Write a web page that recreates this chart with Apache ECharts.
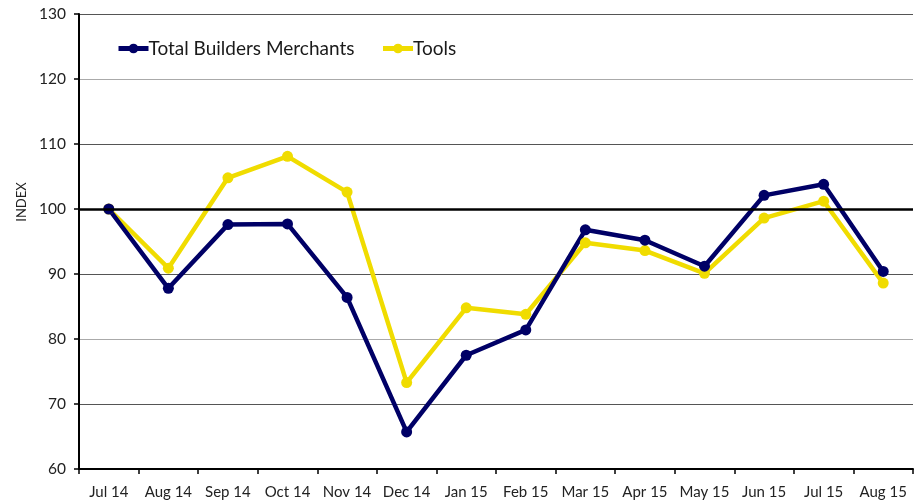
<!DOCTYPE html>
<html lang="en">
<head>
    <meta charset="UTF-8">
    <title>Builders Merchants index</title>
    <style>
        html, body { margin: 0; padding: 0; background: #fff; }
        #main { width: 920px; height: 503px; }
    </style>
</head>
<body>
    <div id="main"></div>
<script src="https://cdn.jsdelivr.net/npm/echarts@6/dist/echarts.min.js"></script>
<script>
    var months = ['Jul 14', 'Aug 14', 'Sep 14', 'Oct 14', 'Nov 14', 'Dec 14', 'Jan 15',
        'Feb 15', 'Mar 15', 'Apr 15', 'May 15', 'Jun 15', 'Jul 15', 'Aug 15'];
    var totalMerchants = [100, 87.8, 97.6, 97.7, 86.4, 65.7, 77.5, 81.4, 96.8, 95.2, 91.2, 102.1, 103.8, 90.4];
    var tools = [100, 90.9, 104.8, 108.1, 102.6, 73.3, 84.8, 83.8, 94.8, 93.6, 90.1, 98.6, 101.2, 88.6];
    var yTicks = [60, 70, 80, 90, 100, 110, 120, 130];

    var navy = '#000066';
    var yellow = '#f0dc00';
    var font = 'Lato, "Open Sans", sans-serif';

    var myChart = echarts.init(document.getElementById('main'));

    // one line series, shared look
    function lineSeries(name, data, color) {
        return {
            name: name,
            type: 'line',
            data: data,
            symbol: 'circle',
            symbolSize: 11,
            lineStyle: { width: 4.5, color: color },
            itemStyle: { color: color },
            animation: false
        };
    }

    var series = [
        lineSeries('Tools', tools, yellow),
        lineSeries('Total Builders Merchants', totalMerchants, navy)
    ];
    // black reference line at 100
    series[1].markLine = {
        silent: true,
        symbol: 'none',
        label: { show: false },
        lineStyle: { color: '#000', width: 2.5, type: 'solid' },
        data: [{ yAxis: 100 }]
    };
    series[1].z = 3;

    var option = {
        backgroundColor: '#fff',
        animation: false,
        textStyle: { fontFamily: font },
        grid: { left: 79, right: 7, top: 14, bottom: 34 },
        legend: {
            data: ['Total Builders Merchants', 'Tools'],
            left: 111,
            top: 34,
            itemWidth: 30,
            itemHeight: 12,
            itemGap: 26,
            lineStyle: { width: 5 },
            textStyle: { fontSize: 19, color: '#1a1a1a', fontFamily: font, padding: [0, 0, 0, -5] }
        },
        xAxis: {
            type: 'category',
            data: months,
            boundaryGap: true,
            axisLine: { lineStyle: { color: '#000', width: 2 } },
            axisTick: { show: true, length: 5, alignWithLabel: false, lineStyle: { color: '#000', width: 1.5 } },
            axisLabel: { interval: 0, fontSize: 15, color: '#222', margin: 16, fontFamily: font },
            splitLine: { show: false }
        },
        yAxis: {
            type: 'value',
            min: yTicks[0],
            max: yTicks[yTicks.length - 1],
            interval: 10,
            axisLine: { show: true, lineStyle: { color: '#000', width: 2 } },
            axisTick: { show: true, length: 5, lineStyle: { color: '#000', width: 1.5 } },
            axisLabel: { fontSize: 15.5, color: '#222', margin: 13, fontFamily: font },
            splitLine: {
                show: true,
                lineStyle: { color: ['#555', '#555', '#aaa', '#555'], width: 1 }
            }
        },
        graphic: [{
            type: 'text',
            x: 22,
            y: 202,
            rotation: Math.PI / 2,
            style: {
                text: 'INDEX',
                fontSize: 13,
                fill: '#222',
                fontFamily: font,
                align: 'center',
                verticalAlign: 'middle'
            }
        }],
        series: series
    };

    myChart.setOption(option);
</script>
</body>
</html>
